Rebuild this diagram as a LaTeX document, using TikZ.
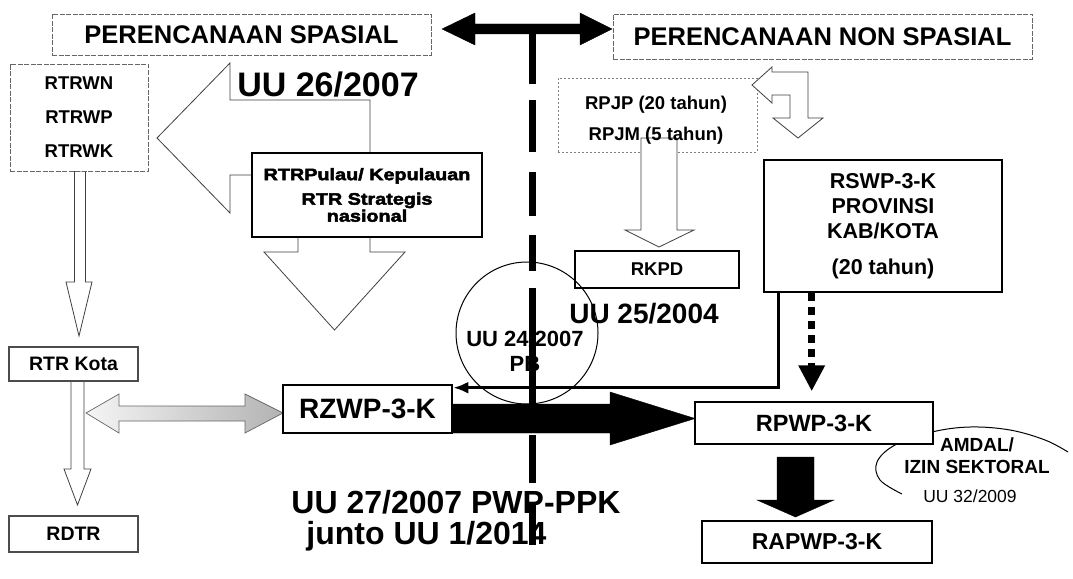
\documentclass[tikz,border=0pt]{standalone}
\usepackage{fontspec}
\setmainfont{Liberation Sans}
\newfontfamily\heavyfont{Liberation Sans}[FakeBold=3,FakeStretch=1.2]
\usetikzlibrary{arrows.meta,calc}
\newcommand{\fsz}[2]{\fontsize{#1pt}{#2pt}\selectfont}
\begin{document}
\begin{tikzpicture}[x=1pt,y=-1pt,
  faint/.style={draw=black!60,line width=0.8pt,dash pattern=on 5pt off 1.5pt,fill=white,inner sep=0pt},
  midbox/.style={draw=black!70,line width=1.3pt,fill=white,inner sep=0pt},
  thickbox/.style={draw=black,line width=2.6pt,fill=white,inner sep=0pt},
  hollow/.style={draw=black!75,line width=0.8pt,fill=white,line join=miter},
  solidarrow/.style={fill=black,draw=black,line width=0.4pt,line join=miter},
  divider/.style={line width=7pt,draw=black},
  lbl/.style={inner sep=0pt}
]
\useasboundingbox[fill=white] (0,0) rectangle (1073,578);

% ---------- faint boxes ----------
\node[faint,minimum width=379pt,minimum height=41pt,font=\bfseries\fsz{25.5}{30}] (spasial) at (241.5,34.5) {PERENCANAAN SPASIAL};
\node[faint,minimum width=419pt,minimum height=45pt,font=\bfseries\fsz{25.5}{30}] (nonspasial) at (822.5,36.5) {PERENCANAAN NON SPASIAL};
\node[faint,dash pattern=on 2pt off 2pt,draw=black!50,minimum width=199pt,minimum height=74pt] (rpjpbox) at (657.5,115) {};

% ---------- hollow arrows ----------
\draw[hollow] (157,138) -- (230,63) -- (230,100) -- (370,100) -- (370,175) -- (230,175) -- (230,213) -- cycle;
\draw[hollow] (298,230) -- (298,252) -- (264,252) -- (334.5,330) -- (405,252) -- (370,252) -- (370,230) -- cycle;
\draw[hollow] (74.5,171) -- (74.5,282) -- (66,282) -- (79,336) -- (92,282) -- (85.5,282) -- (85.5,171) -- cycle;
\draw[hollow] (71,381) -- (71,469) -- (64,469) -- (77.5,505) -- (91,469) -- (84,469) -- (84,381) -- cycle;
\draw[hollow] (641,138) -- (641,230) -- (625,230) -- (659,247) -- (694,230) -- (677,230) -- (677,138) -- cycle;
\draw[hollow] (752,85) -- (772,67) -- (772,72) -- (808,72) -- (808,118) -- (823,118) -- (798,138) -- (773,118) -- (790,118) -- (790,95) -- (772,95) -- (772,103) -- cycle;
\shade[left color=gray!8,right color=gray!60,draw=black!60,line width=0.7pt,line join=miter]
  (86,413) -- (119,394) -- (119,406) -- (245,406) -- (245,394) -- (283,413) -- (245,433) -- (245,421) -- (119,421) -- (119,433) -- cycle;
\node[lbl,align=center,font=\bfseries\fsz{18.5}{31}] (rpjp) at (656,120.5) {RPJP (20 tahun)\\RPJM (5 tahun)};

% ---------- left column boxes ----------
\node[faint,minimum width=138pt,minimum height=107pt,align=center,font=\bfseries\fsz{18.5}{34}] (rtrw) at (79,117.5) {RTRWN\\RTRWP\\RTRWK};
\node[midbox,minimum width=129pt,minimum height=34pt,font=\bfseries\fsz{19.5}{22}] (rtrkota) at (73.5,364) {RTR Kota};
\node[midbox,minimum width=129pt,minimum height=36pt,font=\bfseries\fsz{19.5}{22}] (rdtr) at (73.5,534) {RDTR};

% ---------- thick boxes ----------
\node[thickbox,minimum width=230pt,minimum height=84pt,align=center,font=\heavyfont\bfseries\fsz{16.5}{17}] (rtrpulau) at (367,195) {RTRPulau/ Kepulauan\\[7.5pt]RTR Strategis\\nasional};
\node[lbl,font=\bfseries\fsz{34}{36}] (uu26) at (328,85) {UU 26/2007};
\node[thickbox,line width=2pt,minimum width=164pt,minimum height=37pt,font=\bfseries\fsz{18.5}{22}] (rkpd) at (657,269.5) {RKPD};
\node[lbl,font=\bfseries\fsz{28}{30}] (uu25) at (644,314) {UU 25/2004};
\node[thickbox,minimum width=238pt,minimum height=132pt,align=center,font=\bfseries\fsz{21.5}{25}] (rswp) at (883,226) {RSWP-3-K\\PROVINSI\\KAB/KOTA\\[11pt](20 tahun)};

% ---------- circle ----------
\node[circle,draw=black,line width=1pt,minimum size=142pt,inner sep=0pt] (pbcircle) at (527,333) {};
\node[lbl,align=center,font=\bfseries\fsz{22}{25}] (pb) at (525,351.5) {UU 24/2007\\PB};

% ---------- AMDAL bubble ----------
\draw[line width=1pt] plot[smooth,tension=0.6] coordinates {(902,494) (880,480) (877,462) (895,445) (932,432) (970,427) (1010,430) (1045,440) (1068,452)};
\node[lbl,align=center,font=\bfseries\fsz{19}{22}] (amdal) at (977,456) {AMDAL/\\IZIN SEKTORAL};
\node[lbl,font=\fsz{17.5}{20}] (uu32) at (970,496) {UU 32/2009};

% ---------- RZWP / RPWP / RAPWP ----------
\node[thickbox,minimum width=169pt,minimum height=48pt,font=\bfseries\fsz{28}{30}] (rzwp) at (367.5,409) {RZWP-3-K};
\node[thickbox,minimum width=238pt,minimum height=42pt,font=\bfseries\fsz{23.5}{26}] (rpwp) at (814,423) {RPWP-3-K};
\node[thickbox,minimum width=230pt,minimum height=42pt,font=\bfseries\fsz{23}{26}] (rapwp) at (817,542) {RAPWP-3-K};

% ---------- connectors ----------
\draw[line width=3.5pt,-{Latex[length=15pt,width=12pt]}] ($(rswp.south west)+(16,0)$) |- ($(rzwp.north east)+(0,4)$);
\draw[line width=7pt,dash pattern=on 8pt off 6pt,-{Triangle[length=26pt,width=25pt]}] ($(rswp.south west)+(49,0)$) -- ++(0,98);
\fill[solidarrow] (452,404) -- (610,404) -- (610,392) -- (695,418.5) -- (610,445) -- (610,433) -- (452,433) -- cycle;
\fill[solidarrow] (777,457) -- (777,500) -- (757,500) -- (795.5,517) -- (834,500) -- (814,500) -- (814,457) -- cycle;

% ---------- bottom law text ----------
\node[lbl,align=left,font=\bfseries\fsz{32}{31}] (uu27) at (456,521) {UU 27/2007 PWP-PPK\\\hspace*{15pt}junto UU 1/2014};

% ---------- divider and top double arrow ----------
\fill[solidarrow] (442,29) -- (475,13) -- (475,24) -- (580,24) -- (580,13) -- (612,29) -- (580,45) -- (580,34) -- (475,34) -- (475,45) -- cycle;
\draw[divider] (532,29) -- (532,84) (532,100) -- (532,152) (532,172) -- (532,216) (532,235) -- (532,271) (532,288) -- (532,407) (532,435) -- (532,483) (532,503) -- (532,545);
\end{tikzpicture}
\end{document}
